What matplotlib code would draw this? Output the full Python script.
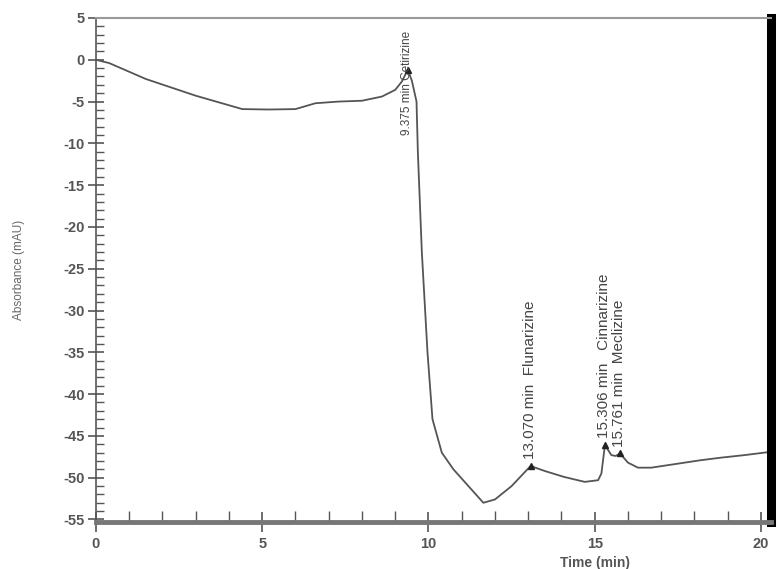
import matplotlib.pyplot as plt
from matplotlib.ticker import MultipleLocator
from matplotlib import font_manager

plt.rcParams["axes.unicode_minus"] = False

# chromatogram trace (min, mAU)
time = [0.0, 0.4, 1.5, 3.0, 4.4, 5.2, 6.0, 6.6, 7.3, 8.0, 8.6, 9.0, 9.2, 9.375,
        9.5, 9.64, 9.68, 9.8, 9.97, 10.12, 10.4, 10.75, 11.2, 11.65, 12.0, 12.5,
        13.07, 13.5, 14.07, 14.7, 15.1, 15.2, 15.306, 15.5, 15.63, 15.761, 16.0,
        16.3, 16.7, 17.2, 17.7, 18.2, 18.8, 19.5, 20.3]
absorbance = [0.0, -0.4, -2.3, -4.3, -5.9, -5.95, -5.9, -5.2, -5.0, -4.9, -4.4,
              -3.6, -2.6, -1.2, -2.5, -5.0, -11.0, -23.0, -35.0, -43.0, -47.0,
              -49.0, -51.0, -53.0, -52.6, -51.0, -48.6, -49.2, -49.9, -50.5, -50.3,
              -49.5, -46.1, -47.3, -47.4, -47.1, -48.2, -48.8, -48.8, -48.5, -48.2,
              -47.9, -47.6, -47.3, -46.9]

# integrated peaks
peak_times = [9.375, 13.07, 15.306, 15.761]
peak_heights = [-1.2, -48.6, -46.1, -47.1]
peak_labels = ["9.375 min Cetirizine", "13.070 min  Flunarizine",
               "15.306 min   Cinnarizine", "15.761 min  Meclizine"]
label_base = [-9.0, -47.8, -45.3, -46.3]
label_size = [8.5, 11, 11, 11]

grey = "#555555"
names = {f.name for f in font_manager.fontManager.ttflist}
narrow = "Liberation Sans Narrow" if "Liberation Sans Narrow" in names else "DejaVu Sans Condensed"
if narrow not in names:
    narrow = "Liberation Sans"

fig = plt.figure(figsize=(7.79, 5.69), dpi=100)
ax = fig.add_axes([0.1232, 0.0826, 0.8665, 0.8858])

ax.plot(time, absorbance, color=grey, lw=1.3)
ax.plot(peak_times, peak_heights, "^", color="#222222", ms=4)

for t, base, lab, fs in zip(peak_times, label_base, peak_labels, label_size):
    ax.text(t - 0.02, base, lab, rotation=90, ha="center", va="bottom",
            fontsize=fs, color="#444444", family=narrow)

ax.set_xlim(0, 20.3)
ax.set_ylim(-55.3, 5)
ax.xaxis.set_major_locator(MultipleLocator(5))
ax.xaxis.set_minor_locator(MultipleLocator(1))
ax.yaxis.set_major_locator(MultipleLocator(5))
ax.yaxis.set_minor_locator(MultipleLocator(1))

ax.tick_params(axis="both", which="major", colors=grey, labelsize=10.5, width=1.2)
ax.tick_params(axis="y", which="major", direction="inout", length=12, pad=2)
ax.tick_params(axis="y", which="minor", direction="in", length=6, color=grey, width=1)
ax.tick_params(axis="x", which="major", direction="inout", length=14, pad=4)
ax.tick_params(axis="x", which="minor", direction="in", length=8, color=grey, width=1)
for lab in ax.get_xticklabels() + ax.get_yticklabels():
    lab.set_fontweight("bold")
    lab.set_family("Liberation Sans")

ax.spines["left"].set_color(grey)
ax.spines["left"].set_linewidth(1.2)
ax.spines["bottom"].set_color("#777777")
ax.spines["bottom"].set_linewidth(3.5)
ax.spines["top"].set_color("#999999")
ax.spines["top"].set_linewidth(1.5)
ax.spines["right"].set_color("black")
ax.spines["right"].set_linewidth(6.5)

ax.set_xlabel("Time (min)", fontsize=10, color=grey, fontweight="bold",
              family="Liberation Sans")
ax.xaxis.set_label_coords(0.74, -0.068)
ax.set_ylabel("Absorbance (mAU)", fontsize=8.5, color="#666666",
              family="Liberation Sans")
ax.yaxis.set_label_coords(-0.105, 0.5)

fig.savefig("out.png", dpi=100)
